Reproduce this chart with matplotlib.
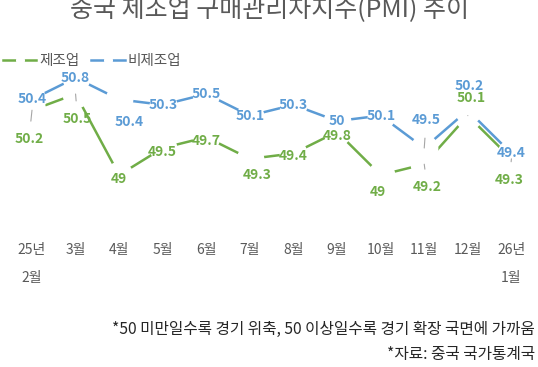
import matplotlib
matplotlib.use("Agg")
import matplotlib.pyplot as plt
from matplotlib.lines import Line2D

plt.rcParams['font.family'] = ['Noto Sans CJK KR', 'DejaVu Sans']

# Data
months = ["25년\n2월", "3월", "4월", "5월", "6월", "7월", "8월", "9월",
          "10월", "11월", "12월", "26년\n1월"]
manufacturing = [50.2, 50.5, 49.0, 49.5, 49.7, 49.3, 49.4, 49.8, 49.0, 49.2, 50.1, 49.3]
non_manufacturing = [50.4, 50.8, 50.4, 50.3, 50.5, 50.1, 50.3, 50.0, 50.1, 49.5, 50.2, 49.4]

# label offsets in pixels (dx, dy; dy positive = up) and leader-line flags
mfg_dx = [-3, 2, 0, 0, 0, 7, 0, 0, -3, 3, 3, -2]
mfg_dy = [-29, -25, -4, -4, -4, -16, -3, -4, -17, -23, 18, -21]
mfg_leader = [1, 1, 0, 0, 0, 0, 0, 0, 0, 1, 1, 1]
non_dx = [0, 0, 10, 0, 0, 0, 0, 0, 0, 2, 1, 0]
non_dy = [0, 0, -23, 0, 0, 0, 0, 0, 0, 28, 24, 0]
non_leader = [0, 0, 0, 0, 0, 0, 0, 0, 0, 1, 0, 0]

green = "#70AD47"
blue = "#5B9BD5"
grey = "#595959"

fig = plt.figure(figsize=(5.38, 3.67), dpi=100)
ax = fig.add_axes([10.2 / 538, 1 - 235 / 367, 523 / 538, 175 / 367])

x = list(range(len(months)))
ax.plot(x, manufacturing, color=green, lw=1.8, marker="o", markersize=20,
        markerfacecolor="white", markeredgewidth=0, zorder=2)
ax.plot(x, non_manufacturing, color=blue, lw=1.8, marker="o", markersize=20,
        markerfacecolor="white", markeredgewidth=0, zorder=3)


def add_labels(values, dxs, dys, leaders, color):
    for i, v in enumerate(values):
        label = f"{v:g}"
        props = None
        if leaders[i]:
            props = dict(arrowstyle="-", color="#A6A6A6", lw=0.8,
                         shrinkA=6, shrinkB=0)
        ax.annotate(label, xy=(i, v), xytext=(dxs[i], dys[i]),
                    textcoords="offset pixels", ha="center", va="center",
                    color=color, fontsize=10, fontweight="bold",
                    arrowprops=props, zorder=5)


add_labels(manufacturing, mfg_dx, mfg_dy, mfg_leader, green)
add_labels(non_manufacturing, non_dx, non_dy, non_leader, blue)

ax.set_xlim(-0.5, 11.5)
ax.set_ylim(47.889, 51.13)
ax.set_xticks(x)
ax.set_xticklabels(months, color=grey, fontsize=10, linespacing=2.2)
ax.tick_params(axis="x", length=0, pad=6)
ax.set_yticks([])
for s in ax.spines.values():
    s.set_visible(False)

fig.text(0.5, 1 - 16 / 367, "중국 제조업 구매관리자지수(PMI) 추이", ha="center",
         va="baseline", fontsize=18, color=grey)

handles = [
    Line2D([], [], color=green, lw=1.8, marker="o", markersize=6.5,
           markerfacecolor="white", markeredgewidth=0),
    Line2D([], [], color=blue, lw=1.8, marker="o", markersize=6.5,
           markerfacecolor="white", markeredgewidth=0),
]
fig.legend(handles, ["제조업", "비제조업"], loc="center left",
           bbox_to_anchor=(0.0, 1 - 61 / 367), ncol=2, frameon=False,
           fontsize=10.5, labelcolor=grey, handlelength=2.3,
           handletextpad=0.2, columnspacing=0.8, borderaxespad=0,
           borderpad=0.2)

fig.text(535 / 538, 1 - 329 / 367,
         "*50 미만일수록 경기 위축, 50 이상일수록 경기 확장 국면에 가까움",
         ha="right", va="center", fontsize=11.3, color="#262626")
fig.text(535 / 538, 1 - 354 / 367, "*자료: 중국 국가통계국",
         ha="right", va="center", fontsize=11.3, color="#262626")

fig.savefig("out.png", dpi=100)
